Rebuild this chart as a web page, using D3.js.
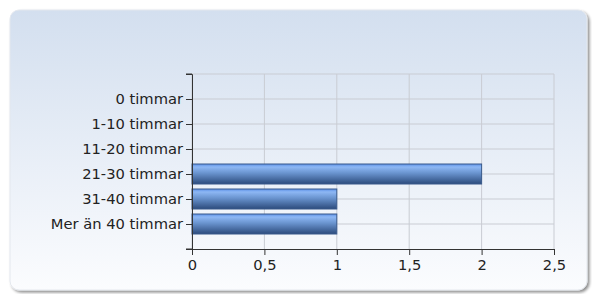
<!DOCTYPE html>
<html>
<head>
<meta charset="utf-8">
<script src="https://cdn.jsdelivr.net/npm/d3@7"></script>
<style>
  body { margin: 0; background: #ffffff; }
  svg text { font-family: "DejaVu Sans", Verdana, sans-serif; font-size: 14.7px; fill: #222; }
</style>
</head>
<body>
<div id="chart"></div>
<script>
var svgWidth = 592;
var svgHeight = 294;

// chart data
var categories = ["0 timmar", "1-10 timmar", "11-20 timmar", "21-30 timmar", "31-40 timmar", "Mer än 40 timmar"];
var values = [0, 0, 0, 2, 1, 1];
var xTicks = [0, 0.5, 1, 1.5, 2, 2.5];

var margin = { top: 74, right: 38, bottom: 45, left: 192 };
var width = svgWidth - margin.left - margin.right;
var height = svgHeight - margin.top - margin.bottom;

var svg = d3.select("#chart")
    .append("svg")
    .attr("width", svgWidth)
    .attr("height", svgHeight);

var defs = svg.append("defs");

// panel background gradient
var bgGrad = defs.append("linearGradient")
    .attr("id", "bgGrad")
    .attr("x1", 0).attr("y1", 0).attr("x2", 0).attr("y2", 1);
bgGrad.append("stop").attr("offset", "0%").attr("stop-color", "#d3dfef");
bgGrad.append("stop").attr("offset", "100%").attr("stop-color", "#fbfcfe");

// bar gradient
var barGrad = defs.append("linearGradient")
    .attr("id", "barGrad")
    .attr("x1", 0).attr("y1", 0).attr("x2", 0).attr("y2", 1);
barGrad.append("stop").attr("offset", "0%").attr("stop-color", "#5c90e6");
barGrad.append("stop").attr("offset", "15%").attr("stop-color", "#8db7f4");
barGrad.append("stop").attr("offset", "45%").attr("stop-color", "#6a94cf");
barGrad.append("stop").attr("offset", "100%").attr("stop-color", "#2c4b7c");

var shadow = defs.append("filter").attr("id", "shadow")
    .attr("x", "-5%").attr("y", "-5%").attr("width", "110%").attr("height", "115%");
shadow.append("feGaussianBlur").attr("in", "SourceAlpha").attr("stdDeviation", 1.5);
shadow.append("feOffset").attr("dx", 2).attr("dy", 2).attr("result", "off");
shadow.append("feComponentTransfer").append("feFuncA").attr("type", "linear").attr("slope", 0.45);
var merge = shadow.append("feMerge");
merge.append("feMergeNode");
merge.append("feMergeNode").attr("in", "SourceGraphic");

// panel
svg.append("rect")
    .attr("x", 10).attr("y", 10)
    .attr("width", 577).attr("height", 280)
    .attr("rx", 9).attr("ry", 9)
    .attr("fill", "url(#bgGrad)")
    .attr("stroke", "#e4e8ee")
    .attr("filter", "url(#shadow)");

var chartGroup = svg.append("g")
    .attr("transform", `translate(${margin.left}, ${margin.top})`);

var xScale = d3.scaleLinear()
    .domain([0, 2.5])
    .range([0, width]);

var yScale = d3.scalePoint()
    .domain(categories)
    .range([0, height])
    .padding(1);

// gridlines
chartGroup.append("g")
    .selectAll("line")
    .data(xTicks)
    .enter()
    .append("line")
    .attr("x1", d => xScale(d)).attr("x2", d => xScale(d))
    .attr("y1", 0).attr("y2", height)
    .attr("stroke", "#c9ccd3");

var hLines = [0].concat(categories.map(c => yScale(c)));
chartGroup.append("g")
    .selectAll("line")
    .data(hLines)
    .enter()
    .append("line")
    .attr("x1", 0).attr("x2", width)
    .attr("y1", d => d).attr("y2", d => d)
    .attr("stroke", "#c9ccd3");

// bars
var barH = 20;
chartGroup.append("g")
    .selectAll("rect")
    .data(values.map((v, i) => ({ cat: categories[i], v: v })).filter(d => d.v > 0))
    .enter()
    .append("rect")
    .attr("x", 0)
    .attr("y", d => yScale(d.cat) - barH / 2)
    .attr("width", d => xScale(d.v))
    .attr("height", barH)
    .attr("fill", "url(#barGrad)")
    .attr("stroke", "#3a5b8c")
    .attr("stroke-width", 1);

// x axis
var xAxis = chartGroup.append("g")
    .attr("transform", `translate(0, ${height})`)
    .call(d3.axisBottom(xScale)
        .tickValues(xTicks)
        .tickFormat(d => String(d).replace(".", ","))
        .tickSize(6)
        .tickSizeOuter(0)
        .tickPadding(5));

// y axis
var yAxis = chartGroup.append("g")
    .call(d3.axisLeft(yScale)
        .tickSize(6)
        .tickSizeOuter(6)
        .tickPadding(3));

[xAxis, yAxis].forEach(ax => {
    ax.select(".domain").attr("stroke", "#333");
    ax.selectAll(".tick line").attr("stroke", "#333");
    ax.selectAll("text").attr("fill", "#222");
});

// extra ticks at top and bottom of y axis
chartGroup.append("g")
    .selectAll("line")
    .data([0, height])
    .enter()
    .append("line")
    .attr("x1", -6).attr("x2", 0)
    .attr("y1", d => d).attr("y2", d => d)
    .attr("stroke", "#333");
</script>
</body>
</html>
